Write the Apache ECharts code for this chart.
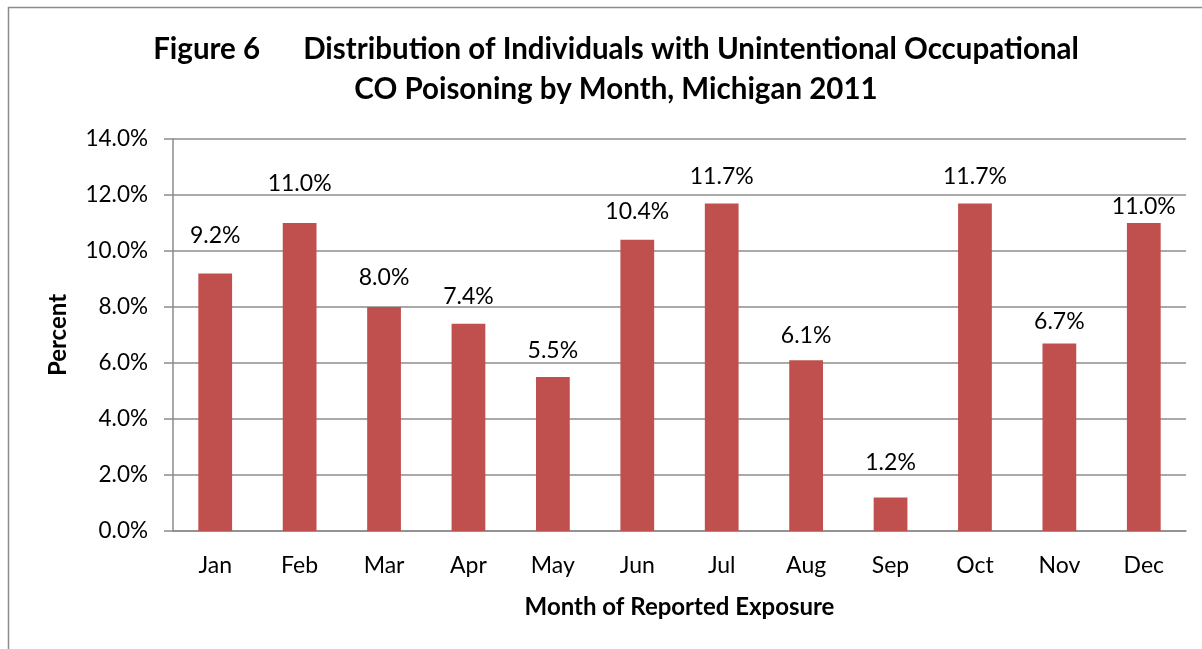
<!DOCTYPE html>
<html>
<head>
<meta charset="utf-8">
<script src="https://cdn.jsdelivr.net/npm/echarts@6/dist/echarts.min.js"></script>
<style>
  html, body { margin: 0; padding: 0; background: #fff; }
  #main { width: 1202px; height: 649px; }
</style>
</head>
<body>
<div id="main"></div>
<script>
// chart data
var months = ['Jan', 'Feb', 'Mar', 'Apr', 'May', 'Jun', 'Jul', 'Aug', 'Sep', 'Oct', 'Nov', 'Dec'];
var percents = [9.2, 11.0, 8.0, 7.4, 5.5, 10.4, 11.7, 6.1, 1.2, 11.7, 6.7, 11.0];
var yTicks = [0, 2, 4, 6, 8, 10, 12, 14];

// label gaps above each bar (the labels were nudged by hand in the original)
var labelGap = [26, 28, 18, 16, 15, 17, 15, 13, 23, 15, 10, 5];

var font = 'Lato, "Open Sans", sans-serif';
var myChart = echarts.init(document.getElementById('main'));

var barData = percents.map(function (v, i) {
    return { value: v, label: { distance: labelGap[i] } };
});

var option = {
    backgroundColor: '#fff',
    animation: false,
    title: {
        text: 'Figure 6      Distribution of Individuals with Unintentional Occupational\nCO Poisoning by Month, Michigan 2011',
        left: 611,
        top: 24,
        textAlign: 'center',
        textStyle: {
            fontFamily: font,
            fontWeight: 'bold',
            fontSize: 29.5,
            lineHeight: 40,
            color: '#000'
        }
    },
    graphic: [{
        type: 'rect',
        shape: { x: 8.5, y: 7.5, width: 1300, height: 700 },
        style: { fill: 'none', stroke: '#8c8c8c', lineWidth: 1.5 },
        silent: true
    }],
    grid: {
        left: 173,
        right: 16,
        top: 139,
        bottom: 118
    },
    xAxis: {
        type: 'category',
        data: months,
        name: 'Month of Reported Exposure',
        nameLocation: 'middle',
        nameGap: 64,
        nameTextStyle: { fontFamily: font, fontWeight: 'bold', fontSize: 24, color: '#000' },
        axisLine: { lineStyle: { color: '#8c8c8c', width: 1.5 } },
        axisTick: { show: false },
        axisLabel: { fontFamily: font, fontSize: 23, color: '#000', margin: 23 }
    },
    yAxis: {
        type: 'value',
        min: yTicks[0],
        max: yTicks[yTicks.length - 1],
        interval: 2,
        name: 'Percent',
        nameLocation: 'middle',
        nameGap: 103,
        nameTextStyle: { fontFamily: font, fontWeight: 'bold', fontSize: 24, color: '#000' },
        axisLine: { show: true, lineStyle: { color: '#8c8c8c', width: 1.5 } },
        axisTick: { show: true, inside: false, length: 9, lineStyle: { color: '#8c8c8c', width: 1.5 } },
        splitLine: { show: true, lineStyle: { color: '#8c8c8c', width: 1.5 } },
        axisLabel: {
            fontFamily: font, fontSize: 22.5, color: '#000', margin: 25,
            formatter: function (v) { return v.toFixed(1) + '%'; }
        }
    },
    series: [{
        type: 'bar',
        data: barData,
        barWidth: '40%',
        itemStyle: { color: '#C0504D' },
        label: {
            show: true,
            position: 'top',
            fontFamily: font,
            fontSize: 23,
            color: '#000',
            formatter: function (p) { return p.value.toFixed(1) + '%'; }
        }
    }]
};

myChart.setOption(option);
</script>
</body>
</html>
